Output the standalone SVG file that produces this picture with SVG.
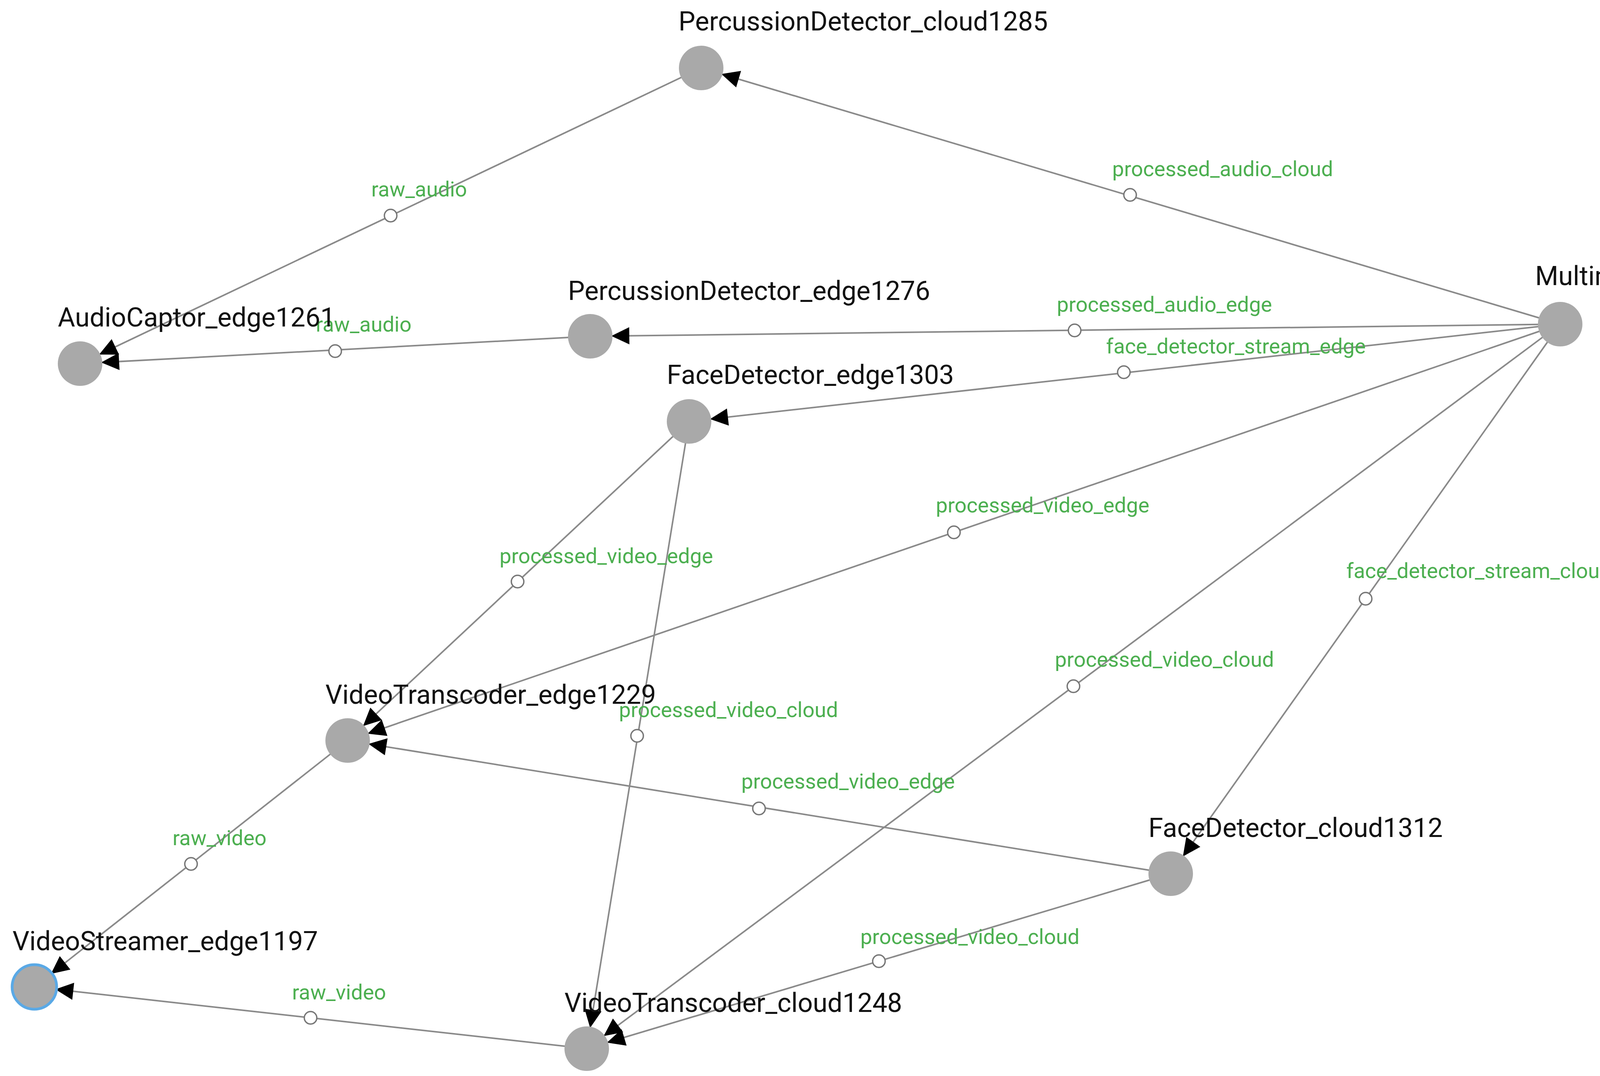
<svg xmlns="http://www.w3.org/2000/svg" width="4925" height="2755" viewBox="0 0 4925 2755">
<style>
.e{stroke:#8a8a8a;stroke-width:4;fill:none;marker-end:url(#ah)}
.m{fill:#fff;stroke:#777;stroke-width:3.5}
.el{font-family:Roboto,"Liberation Sans",sans-serif;font-size:54px;fill:#4caf50;text-anchor:middle}
.n{fill:#a9a9a9}
.nl{font-family:Roboto,"Liberation Sans",sans-serif;font-size:68px;fill:#111}
</style>
<defs>
<marker id="ah" markerUnits="userSpaceOnUse" markerWidth="60" markerHeight="60" refX="100" refY="0" orient="auto" overflow="visible">
<path d="M0,-22 L46,0 L0,22 z" fill="#000"/>
</marker>
</defs>
<rect width="4925" height="2755" fill="#fff"/>
<g id="connectors">
<line class="e" x1="1795" y1="174" x2="205" y2="931"/>
<line class="e" x1="1511" y1="861" x2="205" y2="931"/>
<line class="e" x1="3994" y1="830" x2="1795" y2="174"/>
<line class="e" x1="3994" y1="830" x2="1511" y2="861"/>
<line class="e" x1="3994" y1="830" x2="1764" y2="1079"/>
<line class="e" x1="3994" y1="830" x2="890" y2="1896"/>
<line class="e" x1="3994" y1="830" x2="1502" y2="2685"/>
<line class="e" x1="3994" y1="830" x2="2997" y2="2237"/>
<line class="e" x1="1764" y1="1079" x2="890" y2="1896"/>
<line class="e" x1="1764" y1="1079" x2="1502" y2="2685"/>
<line class="e" x1="2997" y1="2237" x2="890" y2="1896"/>
<line class="e" x1="2997" y1="2237" x2="1502" y2="2685"/>
<line class="e" x1="890" y1="1896" x2="88" y2="2527"/>
<line class="e" x1="1502" y1="2685" x2="88" y2="2527"/>
<circle class="m" cx="1000" cy="552" r="16"/>
<circle class="m" cx="858" cy="899" r="16"/>
<circle class="m" cx="2893" cy="499" r="16"/>
<circle class="m" cx="2751" cy="846" r="16"/>
<circle class="m" cx="2877" cy="953" r="16"/>
<circle class="m" cx="2442" cy="1363" r="16"/>
<circle class="m" cx="2748" cy="1757" r="16"/>
<circle class="m" cx="3496" cy="1533" r="16"/>
<circle class="m" cx="1325" cy="1489" r="16"/>
<circle class="m" cx="1631" cy="1884" r="16"/>
<circle class="m" cx="1943" cy="2070" r="16"/>
<circle class="m" cx="2250" cy="2461" r="16"/>
<circle class="m" cx="489" cy="2212" r="16"/>
<circle class="m" cx="795" cy="2606" r="16"/>
<text class="el" x="1073" y="503">raw_audio</text>
<text class="el" x="931" y="849">raw_audio</text>
<text class="el" x="3130" y="451">processed_audio_cloud</text>
<text class="el" x="2981" y="798">processed_audio_edge</text>
<text class="el" x="3164" y="905">face_detector_stream_edge</text>
<text class="el" x="2669" y="1312">processed_video_edge</text>
<text class="el" x="2981" y="1707">processed_video_cloud</text>
<text class="el" x="3786" y="1480">face_detector_stream_cloud</text>
<text class="el" x="1552" y="1442">processed_video_edge</text>
<text class="el" x="1865" y="1836">processed_video_cloud</text>
<text class="el" x="2171" y="2019">processed_video_edge</text>
<text class="el" x="2483" y="2417">processed_video_cloud</text>
<text class="el" x="562" y="2164">raw_video</text>
<text class="el" x="868" y="2559">raw_video</text>
</g>
<g id="PercussionDetector_cloud1285"><circle class="n" cx="1795" cy="174" r="57"/><text class="nl" x="1737" y="78">PercussionDetector_cloud1285</text></g>
<g id="AudioCaptor_edge1261"><circle class="n" cx="205" cy="931" r="57"/><text class="nl" x="148" y="836">AudioCaptor_edge1261</text></g>
<g id="PercussionDetector_edge1276"><circle class="n" cx="1511" cy="861" r="57"/><text class="nl" x="1454" y="768">PercussionDetector_edge1276</text></g>
<g id="FaceDetector_edge1303"><circle class="n" cx="1764" cy="1079" r="57"/><text class="nl" x="1707" y="983">FaceDetector_edge1303</text></g>
<g id="MultimediaManager_cloud1294"><circle class="n" cx="3994" cy="830" r="57"/><text class="nl" x="3930" y="730">MultimediaManager_cloud1294</text></g>
<g id="VideoTranscoder_edge1229"><circle class="n" cx="890" cy="1896" r="57"/><text class="nl" x="833" y="1802">VideoTranscoder_edge1229</text></g>
<g id="FaceDetector_cloud1312"><circle class="n" cx="2997" cy="2237" r="57"/><text class="nl" x="2940" y="2143">FaceDetector_cloud1312</text></g>
<g id="VideoStreamer_edge1197"><circle class="n" cx="88" cy="2527" r="57" stroke="#5aa9e6" stroke-width="7"/><text class="nl" x="32" y="2433">VideoStreamer_edge1197</text></g>
<g id="VideoTranscoder_cloud1248"><circle class="n" cx="1502" cy="2685" r="57"/><text class="nl" x="1445" y="2591">VideoTranscoder_cloud1248</text></g>
</svg>
